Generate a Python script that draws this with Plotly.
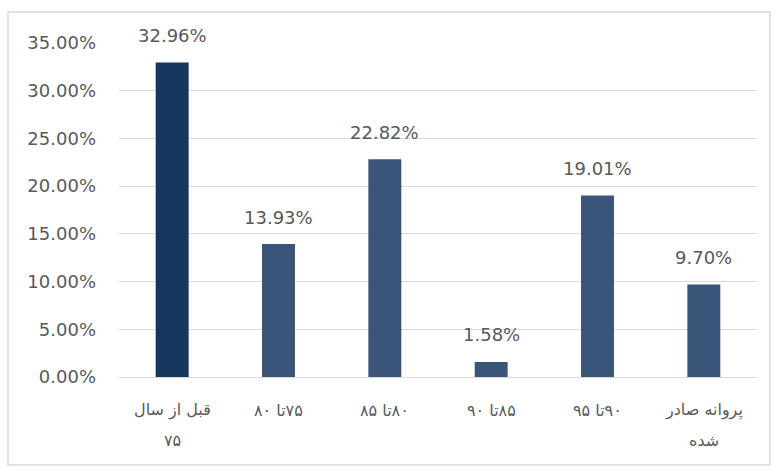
import plotly.graph_objects as go

categories = ["قبل از سال ۷۵", "۷۵تا ۸۰", "۸۰تا ۸۵", "۸۵تا ۹۰", "۹۰تا ۹۵", "پروانه صادر شده"]
label_lines = [["قبل از سال", "۷۵"], ["۷۵تا ۸۰"], ["۸۰تا ۸۵"], ["۸۵تا ۹۰"], ["۹۰تا ۹۵"], ["پروانه صادر", "شده"]]
values = [0.3296, 0.1393, 0.2282, 0.0158, 0.1901, 0.0970]
labels = ["32.96%", "13.93%", "22.82%", "1.58%", "19.01%", "9.70%"]
bar_colors = ["#17365d", "#3b5578", "#3b5578", "#3b5578", "#3b5578", "#3b5578"]

W, H = 778, 472
L, R, T, B = 119, 21, 43, 95
pw = W - L - R
ph = H - T - B
NUM_FONT = "DejaVu Sans, sans-serif"
FA_FONT = "DejaVu Sans, sans-serif"
GREY = "#595959"

fig = go.Figure()
fig.add_trace(go.Bar(
    x=categories, y=values,
    marker=dict(color=bar_colors, line=dict(width=0)),
    hoverinfo="skip",
))

annotations = []
for cat, v, lab in zip(categories, values, labels):
    annotations.append(dict(x=cat, y=v, xref="x", yref="y", text=lab, showarrow=False,
                            yanchor="middle", yshift=27,
                            font=dict(size=18, color=GREY, family=NUM_FONT)))
for cat, lines in zip(categories, label_lines):
    for i, ln in enumerate(lines):
        annotations.append(dict(x=cat, y=0, xref="x", yref="paper",
                                text="\u202b" + ln + "\u202c", showarrow=False,
                                yanchor="middle", yshift=-33 - 30 * i,
                                font=dict(size=16, color=GREY, family=FA_FONT)))


def px2paper_x(px):
    return (px - L) / pw


def px2paper_y(py):
    return (H - B - py) / ph


fig.update_layout(
    width=W, height=H,
    margin=dict(l=L, r=R, t=T, b=B),
    paper_bgcolor="white", plot_bgcolor="white",
    bargap=0.69,
    showlegend=False,
    annotations=annotations,
    yaxis=dict(range=[0, 0.35], tickvals=[i * 0.05 for i in range(8)], tickformat=".2%",
               showgrid=True, gridcolor="#d9d9d9", gridwidth=1, zeroline=False,
               showline=False, ticks="", ticklabelstandoff=22,
               tickfont=dict(size=18, color=GREY, family=NUM_FONT)),
    xaxis=dict(showline=True, linecolor="#d9d9d9", linewidth=1, ticks="",
               showticklabels=False),
    shapes=[dict(type="rect", xref="paper", yref="paper",
                 x0=px2paper_x(8), x1=px2paper_x(770), y0=px2paper_y(465), y1=px2paper_y(12),
                 line=dict(color="#d9d9d9", width=1.5), fillcolor="rgba(0,0,0,0)", layer="below")],
)

fig.write_html("out.html")
